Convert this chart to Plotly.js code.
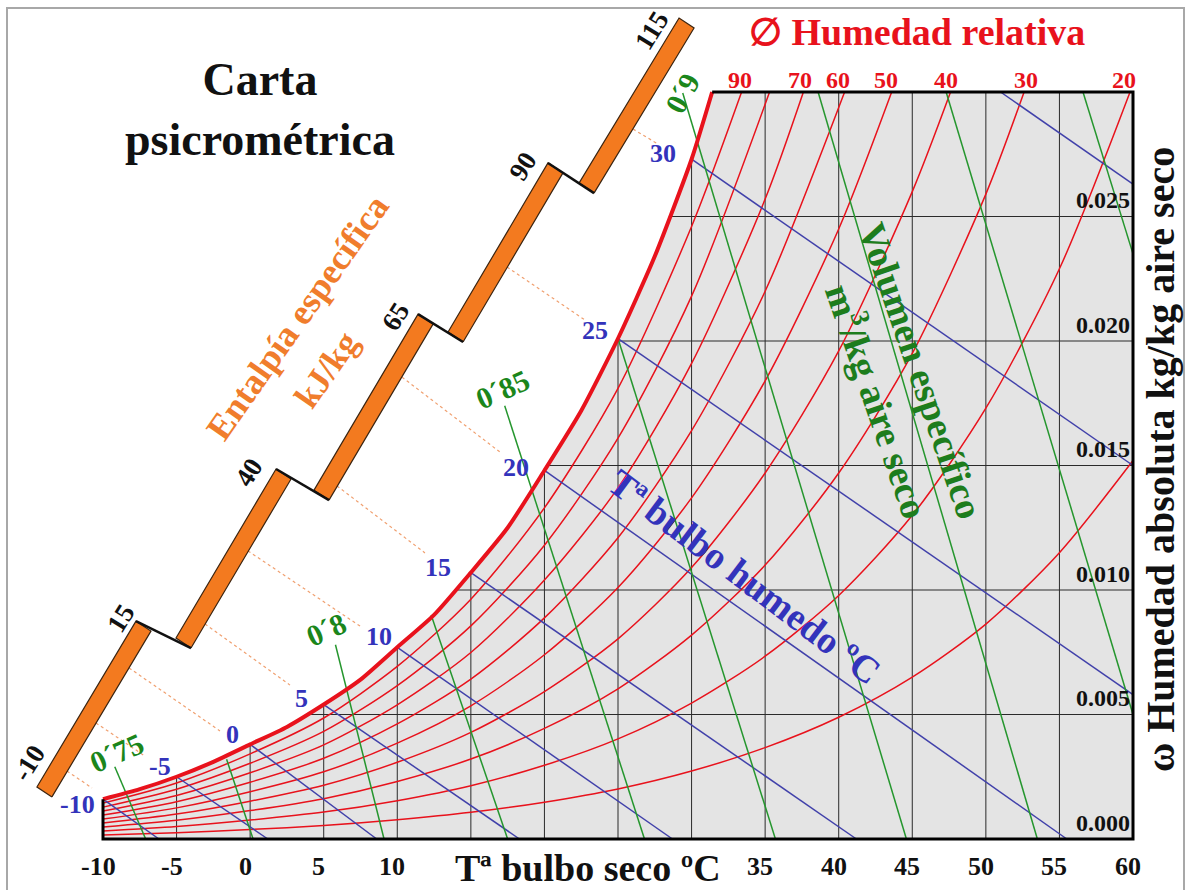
<!DOCTYPE html>
<html>
<head>
<meta charset="utf-8">
<script src="https://cdn.plot.ly/plotly-3.0.1.min.js"></script>
<style>html,body{margin:0;padding:0;background:#fff;}#chart{width:1189px;height:890px;}</style>
</head>
<body>
<div id="chart"></div>
<script>
// ---------------- DATA (temperatures in °C, humidity in g/kg) ----------------
const X_TICKS = [-10, -5, 0, 5, 10, 35, 40, 45, 50, 55, 60];
const X_TICK_TEXT = ['-10', '-5', '0', '5', '10', '35', '40', '45', '50', '55', '60'];
const Y_TICKS_G = [0, 5, 10, 15, 20, 25];
const Y_TICK_TEXT = ['0.000', '0.005', '0.010', '0.015', '0.020', '0.025'];
const GRID_T = [-5, 0, 5, 10, 15, 20, 25, 30, 35, 40, 45, 50, 55];
const GRID_W = [5, 10, 15, 20, 25];

// saturation curve
const SAT_T = [-10, -7.5, -5, -2.5, 0, 2.5, 5, 7.5, 10, 12.5, 15, 17.5, 20, 22.5, 25, 27.5, 30, 31.4];
const SAT_W = [1.6, 2.0, 2.5, 3.1, 3.8, 4.5, 5.4, 6.4, 7.7, 9.0, 10.7, 12.5, 14.8, 17.2, 20.1, 23.4, 27.3, 30.0];

// relative humidity curves
const RH_LABELS = [90, 80, 70, 60, 50, 40, 30, 20, 10];
const RH_T = [
  [-10, -5, 0, 5, 10, 15, 20, 25, 30, 33.4],
  [-10, -5, 0, 5, 10, 15, 20, 25, 30, 35.3],
  [-10, -5, 0, 5, 10, 15, 20, 25, 30, 35, 37.6],
  [-10, -5, 0, 5, 10, 15, 20, 25, 30, 35, 40.4],
  [-10, -5, 0, 5, 10, 15, 20, 25, 30, 35, 40, 43.6],
  [-10, -5, 0, 5, 10, 15, 20, 25, 30, 35, 40, 45, 47.6],
  [-10, -5, 0, 5, 10, 15, 20, 25, 30, 35, 40, 45, 50, 52.6],
  [-10, -5, 0, 5, 10, 15, 20, 25, 30, 35, 40, 45, 50, 55, 59.8],
  [-10, -5, 0, 5, 10, 15, 20, 25, 30, 35, 40, 45, 50, 55, 60]
];
const RH_W = [
  [1.44, 2.25, 3.42, 4.86, 6.93, 9.63, 13.3, 18.1, 24.6, 30.0],
  [1.28, 2.0, 3.04, 4.32, 6.16, 8.56, 11.8, 16.1, 21.8, 30.0],
  [1.12, 1.75, 2.66, 3.78, 5.39, 7.49, 10.4, 14.1, 19.1, 25.7, 30.0],
  [0.96, 1.5, 2.28, 3.24, 4.62, 6.42, 8.88, 12.1, 16.4, 22.0, 30.0],
  [0.8, 1.25, 1.9, 2.7, 3.85, 5.35, 7.4, 10.1, 13.7, 18.4, 24.5, 30.0],
  [0.64, 1.0, 1.52, 2.16, 3.08, 4.28, 5.92, 8.04, 10.9, 14.7, 19.6, 26.0, 30.0],
  [0.48, 0.75, 1.14, 1.62, 2.31, 3.21, 4.44, 6.03, 8.19, 11.0, 14.7, 19.5, 25.9, 30.0],
  [0.32, 0.5, 0.76, 1.08, 1.54, 2.14, 2.96, 4.02, 5.46, 7.34, 9.78, 13.0, 17.3, 22.9, 30.0],
  [0.16, 0.25, 0.38, 0.54, 0.77, 1.07, 1.48, 2.01, 2.73, 3.67, 4.89, 6.5, 8.63, 11.5, 15.2]
];
const RH_TOP_LABELS = ['90', '70', '60', '50', '40', '30', '20'];
const RH_TOP_LABEL_T = [33.3, 37.4, 39.95, 43.2, 47.3, 52.7, 59.4];

// wet bulb lines
const WB_LABELS = ['-10', '-5', '0', '5', '10', '15', '20', '25', '30'];
const WB_START_T = [-10, -5, 0, 5, 10, 15, 20, 25, 30, 51.0];
const WB_START_W = [1.6, 2.5, 3.8, 5.4, 7.7, 10.7, 14.8, 20.1, 27.3, 30.0];
const WB_END_T = [-6.2, 1.2, 8.6, 18.3, 28.7, 41.2, 55.5, 60, 60, 60];
const WB_END_W = [0, 0, 0, 0, 0, 0, 0, 5.8, 15.0, 26.3];
const WB_LABEL_T = [-11.7, -6.13, -1.17, 3.52, 8.76, 12.77, 18.07, 23.44, 28.06];
const WB_LABEL_W = [1.37, 2.93, 4.18, 5.66, 8.15, 10.92, 14.9, 20.44, 27.55];

// specific volume lines (m3/kg)
const VOL_START_T = [-9.2, -1.6, 5.8, 12.3, 17.3, 25.0, 29.4, 38.6, 47.3, 56.6];
const VOL_START_W = [2.9, 3.2, 7.8, 9.0, 17.4, 20.1, 29.96, 30.0, 30.0, 30.0];
const VOL_END_T = [-7.1, 0.2, 9.1, 17.5, 26.8, 35.7, 44.6, 53.5, 60, 60];
const VOL_END_W = [0, 0, 0, 0, 0, 0, 0, 0, 5.0, 23.5];
const VOL_LABELS = ['0´75', '0´8', '0´85', '0´9'];
const VOL_LABEL_T = [-9.05, 5.16, 17.12, 29.35];
const VOL_LABEL_W = [3.49, 8.43, 18.07, 29.96];
const VOL_LABEL_ANGLE = [-24, -24, -24, -62];

// enthalpy scale (kJ/kg)
const H_LABELS = ['-10', '15', '40', '65', '90', '115'];
const H_LABEL_T = [-15.03, -8.78, -0.08, 9.91, 18.54, 27.31];
const H_LABEL_W = [3.05, 8.88, 14.74, 21.0, 27.03, 32.49];
const BAR_BOT_T = [-13.47, -4.02, 5.36, 14.47, 23.37];
const BAR_BOT_W = [1.69, 7.67, 13.61, 19.96, 25.94];
const BAR_TOP_T = [-6.74, 2.78, 12.43, 21.26, 30.17];
const BAR_TOP_W = [8.35, 14.46, 20.68, 26.75, 32.57];
const BAR_OFFSET_T = -1.02, BAR_OFFSET_W = 0.40;
// dashed enthalpy guides
const HD_START_T = [-12.45, -10.48, -8.23, -3.07, -0.15, 5.90, 10.32, 17.46, 26.02];
const HD_START_W = [2.73, 4.66, 6.87, 8.63, 11.57, 14.18, 18.55, 22.97, 28.51];
const HD_END_T = [-10.75, -7.15, -2.05, 2.71, 7.47, 11.88, 16.98, 22.76, 27.72];
const HD_END_W = [2.05, 3.33, 4.34, 6.18, 8.55, 11.49, 15.54, 20.84, 27.91];

// ---------------- helpers ----------------
const g = v => v / 1000; // g/kg -> kg/kg
const FONT = '"Liberation Serif", "Times New Roman", serif';
const RED = '#e8121c', BLUE = '#4141aa', BLUE_TXT = '#3333bb', GREEN = '#25962e', GREEN_TXT = '#1b861b', ORANGE = '#f37a1f';

function segs(x0, y0, x1, y1) {
  const xs = [], ys = [];
  for (let i = 0; i < x0.length; i++) { xs.push(x0[i], x1[i], null); ys.push(g(y0[i]), g(y1[i]), null); }
  return {xs, ys};
}

const traces = [];
// gray background
traces.push({type: 'scatter', mode: 'lines', x: [-10, 60, 60, -10, -10], y: [0, 0, g(30), g(30), 0],
  fill: 'toself', fillcolor: '#e4e4e4', line: {width: 0}, hoverinfo: 'skip'});
// grid
{
  const xs = [], ys = [];
  GRID_T.forEach(t => { xs.push(t, t, null); ys.push(0, g(30), null); });
  GRID_W.forEach(w => { xs.push(-10, 60, null); ys.push(g(w), g(w), null); });
  traces.push({type: 'scatter', mode: 'lines', x: xs, y: ys, line: {color: '#2a2a2a', width: 1}, hoverinfo: 'skip'});
}
// white mask above saturation curve
traces.push({type: 'scatter', mode: 'lines', x: SAT_T.concat([-10, -10]), y: SAT_W.map(g).concat([g(31), g(SAT_W[0])]),
  fill: 'toself', fillcolor: '#ffffff', line: {width: 0}, hoverinfo: 'skip'});
// RH curves
RH_T.forEach((ts, i) => {
  traces.push({type: 'scatter', mode: 'lines', x: ts, y: RH_W[i].map(g), line: {color: RED, width: 1.5, shape: 'spline', smoothing: 0.8}, hoverinfo: 'skip'});
});
// wet bulb lines
{
  const s = segs(WB_START_T, WB_START_W, WB_END_T, WB_END_W);
  traces.push({type: 'scatter', mode: 'lines', x: s.xs, y: s.ys, line: {color: BLUE, width: 1.5}, hoverinfo: 'skip'});
}
// specific volume lines
{
  const s = segs(VOL_START_T, VOL_START_W, VOL_END_T, VOL_END_W);
  traces.push({type: 'scatter', mode: 'lines', x: s.xs, y: s.ys, line: {color: GREEN, width: 1.5}, hoverinfo: 'skip'});
}
// dashed enthalpy guides
{
  const s = segs(HD_START_T, HD_START_W, HD_END_T, HD_END_W);
  traces.push({type: 'scatter', mode: 'lines', x: s.xs, y: s.ys, line: {color: '#f0a070', width: 1.2, dash: '3px,3px'}, hoverinfo: 'skip'});
}
// staircase bars
for (let i = 0; i < BAR_BOT_T.length; i++) {
  const xs = [BAR_BOT_T[i], BAR_TOP_T[i], BAR_TOP_T[i] + BAR_OFFSET_T, BAR_BOT_T[i] + BAR_OFFSET_T, BAR_BOT_T[i]];
  const ys = [BAR_BOT_W[i], BAR_TOP_W[i], BAR_TOP_W[i] + BAR_OFFSET_W, BAR_BOT_W[i] + BAR_OFFSET_W, BAR_BOT_W[i]].map(g);
  traces.push({type: 'scatter', mode: 'lines', x: xs, y: ys, fill: 'toself', fillcolor: ORANGE, line: {color: '#3b2410', width: 1.2}, hoverinfo: 'skip'});
}
// staircase steps
{
  const xs = [], ys = [];
  for (let i = 0; i < BAR_BOT_T.length - 1; i++) {
    xs.push(BAR_TOP_T[i] + BAR_OFFSET_T, BAR_BOT_T[i + 1], null);
    ys.push(g(BAR_TOP_W[i] + BAR_OFFSET_W), g(BAR_BOT_W[i + 1]), null);
  }
  traces.push({type: 'scatter', mode: 'lines', x: xs, y: ys, line: {color: '#111', width: 2.5}, hoverinfo: 'skip'});
}
// saturation curve
traces.push({type: 'scatter', mode: 'lines', x: SAT_T, y: SAT_W.map(g), line: {color: RED, width: 4, shape: 'spline', smoothing: 0.6}, hoverinfo: 'skip'});
// frame
traces.push({type: 'scatter', mode: 'lines',
  x: [-10, -10, 60, 60, SAT_T[SAT_T.length - 1]],
  y: [g(SAT_W[0]), 0, 0, g(30), g(30)],
  line: {color: '#000', width: 3}, hoverinfo: 'skip'});

// ---------------- annotations ----------------
const ann = [];
function txt(x, y, text, size, color, angle, extra) {
  ann.push(Object.assign({x: x, y: y, xref: 'x', yref: 'y', text: text, showarrow: false, textangle: angle || 0,
    font: {family: FONT, size: size, color: color, weight: 'bold'}}, extra || {}));
}
// x tick labels (drawn on the x scale)
X_TICKS.forEach((t, i) => txt(t, g(-1.12), X_TICK_TEXT[i], 26, '#111', 0, {xshift: -5}));
RH_TOP_LABELS.forEach((t, i) => txt(RH_TOP_LABEL_T[i], g(30.48), t, 24, RED));
WB_LABELS.forEach((t, i) => txt(WB_LABEL_T[i], g(WB_LABEL_W[i]), t, 26, BLUE_TXT));
VOL_LABELS.forEach((t, i) => txt(VOL_LABEL_T[i], g(VOL_LABEL_W[i]), t, 30, GREEN_TXT, VOL_LABEL_ANGLE[i]));
H_LABELS.forEach((t, i) => txt(H_LABEL_T[i], g(H_LABEL_W[i]), t, 27, '#111', -58));
txt(0.67, g(29.28), 'Carta<br>psicrométrica', 46, '#111');
txt(45.3, g(32.41), '∅ Humedad relativa', 38, RED);
txt(3.25, g(20.96), 'Entalpía específica', 36, '#f07d2c', -55);
txt(5.22, g(18.84), 'kJ/kg', 35, '#f07d2c', -55);
txt(45.6, g(18.8), 'Volumen específico', 38, '#1d7d1d', 71);
txt(42.8, g(17.6), 'm<sup>3</sup>/kg aire seco', 38, '#1d7d1d', 71);
txt(33.63, g(10.52), 'Tª bulbo humedo ºC', 38, BLUE_TXT, 37);
txt(22.96, g(-1.16), 'Tª bulbo seco ºC', 38, '#111');
txt(61.84, g(15.22), 'ω Humedad absoluta kg/kg aire seco', 40, '#111', -90);

const layout = {
  width: 1189, height: 890,
  margin: {l: 0, r: 0, t: 0, b: 0, pad: 0},
  paper_bgcolor: '#ffffff', plot_bgcolor: 'rgba(0,0,0,0)',
  showlegend: false,
  font: {family: FONT, color: '#111', weight: 'bold'},
  xaxis: {range: [-17.0, 63.806], anchor: 'free', position: 0.0573, showticklabels: false,
    showgrid: false, zeroline: false, showline: false, ticks: '', fixedrange: true},
  yaxis: {range: [-0.0020482, 0.0336948], side: 'right', anchor: 'free', position: 0.9529, tickmode: 'array',
    tickvals: Y_TICKS_G.map(g), ticktext: Y_TICK_TEXT, ticklabelposition: 'inside top',
    showgrid: false, zeroline: false, showline: false, ticks: '', tickfont: {family: FONT, size: 24, color: '#111', weight: 'bold'}, fixedrange: true},
  shapes: [{type: 'rect', xref: 'paper', yref: 'paper', x0: 7 / 1189, x1: 1184 / 1189, y0: -0.02, y1: 882 / 890,
    line: {color: '#a8a8a8', width: 2}, fillcolor: 'rgba(0,0,0,0)'}],
  annotations: ann
};
Plotly.newPlot('chart', traces, layout, {staticPlot: true, displayModeBar: false});
</script>
</body>
</html>
